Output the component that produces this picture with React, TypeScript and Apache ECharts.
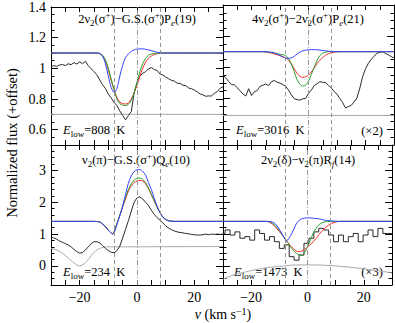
import React, { useEffect, useRef } from 'react';
import * as echarts from 'echarts';

const FONT = "'Liberation Serif', 'DejaVu Serif', serif";

// velocity grid (km/s) for observed spectra
const vGrid = [-30, -29, -28, -27, -26, -25, -24, -23, -22, -21, -20, -19, -18, -17, -16, -15, -14, -13, -12, -11, -10, -9, -8, -7, -6, -5, -4, -3, -2, -1, 0, 1, 2, 3, 4, 5, 6, 7, 8, 9, 10, 11, 12, 13, 14, 15, 16, 17, 18, 19, 20, 21, 22, 23, 24, 25, 26, 27, 28, 29, 30];

// observed spectra
const tlObs = [1.01, 1.018, 1.012, 1.022, 1.025, 1.018, 1.03, 1.024, 1.037, 1.028, 1.042, 1.03, 1.046, 1.018, 0.997, 0.978, 0.958, 0.924, 0.893, 0.868, 0.832, 0.807, 0.778, 0.757, 0.722, 0.692, 0.664, 0.692, 0.718, 0.84, 0.905, 0.948, 0.968, 0.978, 0.997, 1.005, 0.992, 0.987, 0.963, 0.957, 0.943, 0.932, 0.922, 0.917, 0.903, 0.902, 0.89, 0.887, 0.872, 0.867, 0.858, 0.847, 0.833, 0.827, 0.818, 0.82, 0.82, 0.837, 0.848, 0.87, 0.88];
const trObs = [0.95, 0.93, 0.908, 0.888, 0.887, 0.868, 0.848, 0.828, 0.815, 0.862, 0.818, 0.842, 0.85, 0.877, 0.884, 0.892, 0.882, 0.907, 0.915, 0.903, 0.898, 0.888, 0.877, 0.853, 0.822, 0.798, 0.792, 0.788, 0.797, 0.8, 0.832, 0.853, 0.882, 0.893, 0.907, 0.903, 0.902, 0.883, 0.867, 0.843, 0.827, 0.798, 0.772, 0.738, 0.747, 0.755, 0.777, 0.803, 0.865, 0.94, 0.99, 1.025, 1.05, 1.07, 1.09, 1.095, 1.1, 1.088, 1.08, 1.068, 1.06];
const blObs = [0.9, 0.88, 0.84, 0.78, 0.74, 0.7, 0.66, 0.6, 0.52, 0.45, 0.4, 0.42, 0.5, 0.6, 0.7, 0.76, 0.76, 0.72, 0.64, 0.55, 0.48, 0.43, 0.41, 0.48, 0.62, 0.88, 1.15, 1.42, 1.72, 2.0, 2.14, 2.17, 2.1, 2.0, 1.9, 1.75, 1.62, 1.52, 1.44, 1.35, 1.26, 1.19, 1.14, 1.1, 1.07, 1.05, 1.04, 1.02, 1.01, 0.99, 0.98, 0.97, 0.97, 0.98, 1.0, 0.98, 1.0, 0.99, 1.0, 0.99, 1.0];

// binned observed spectrum (bottom right): bin left edges and values
const brEdges = [-30, -29.25, -27.5, -25.75, -24, -22.25, -20.5, -18.75, -17, -15.25, -13.5, -11.75, -10, -8.25, -6.5, -4.75, -3, -1.25, 0.5, 2.25, 4, 5.75, 7.5, 9.25, 11, 12.75, 14.5, 16.25, 18, 19.75, 21.5, 23.25, 25, 26.75, 28.5, 30.25];
const brObs = [1.02, 1.02, 1.13, 0.97, 1.07, 0.87, 0.92, 0.81, 1.13, 1.02, 0.81, 0.92, 0.76, 0.55, 0.66, 0.29, 0.18, 0.34, 0.71, 0.87, 1.07, 1.18, 1.13, 0.97, 0.76, 0.97, 0.76, 0.92, 1.02, 0.76, 0.97, 1.13, 0.92, 1.18, 1.02, 1.02];

// model spectra [v, flux]
const tlBlue = [[-30, 1.1], [-14, 1.1], [-13, 1.097], [-12, 1.08], [-11, 1.03], [-10, 0.95], [-9, 0.875], [-8, 0.843], [-7, 0.87], [-6, 0.95], [-5, 1.02], [-4, 1.07], [-3, 1.095], [-2, 1.11], [-1, 1.12], [0, 1.125], [1, 1.127], [2, 1.127], [3, 1.124], [4, 1.12], [5, 1.115], [6, 1.11], [7, 1.105], [8, 1.102], [9, 1.1], [30, 1.1]];
const tlRed = [[-30, 1.1], [-14, 1.1], [-13, 1.095], [-12, 1.08], [-11, 1.05], [-10, 0.99], [-9, 0.92], [-8, 0.86], [-7, 0.81], [-6, 0.78], [-5, 0.77], [-4, 0.767], [-3, 0.775], [-2, 0.8], [-1, 0.84], [0, 0.89], [1, 0.95], [2, 1.0], [3, 1.04], [4, 1.065], [5, 1.08], [6, 1.09], [7, 1.095], [8, 1.098], [9, 1.1], [30, 1.1]];
const tlGreen = [[-30, 1.1], [-14, 1.1], [-13, 1.096], [-12, 1.085], [-11, 1.055], [-10, 1.0], [-9, 0.93], [-8, 0.86], [-7, 0.8], [-6, 0.77], [-5, 0.76], [-4, 0.757], [-3, 0.765], [-2, 0.79], [-1, 0.84], [0, 0.91], [1, 0.98], [2, 1.03], [3, 1.065], [4, 1.085], [5, 1.093], [6, 1.097], [7, 1.099], [8, 1.1], [30, 1.1]];
const tlGray = [[-30, 0.7], [30, 0.7]];

const trBlue = [[-30, 1.1], [-16, 1.1], [-14, 1.098], [-12, 1.093], [-11, 1.085], [-10, 1.075], [-9, 1.065], [-8, 1.06], [-7, 1.057], [-6, 1.06], [-5, 1.07], [-4, 1.085], [-3, 1.097], [-2, 1.105], [-1, 1.11], [0, 1.112], [1, 1.113], [2, 1.113], [3, 1.112], [4, 1.11], [5, 1.107], [6, 1.105], [7, 1.103], [8, 1.101], [9, 1.1], [30, 1.1]];
const trRed = [[-30, 1.1], [-16, 1.1], [-15, 1.098], [-14, 1.095], [-13, 1.09], [-12, 1.085], [-11, 1.08], [-10, 1.075], [-9, 1.068], [-8, 1.06], [-7, 1.045], [-6, 1.02], [-5, 0.99], [-4, 0.96], [-3, 0.942], [-2, 0.935], [-1, 0.938], [0, 0.95], [1, 0.97], [2, 0.995], [3, 1.025], [4, 1.045], [5, 1.063], [6, 1.077], [7, 1.087], [8, 1.093], [9, 1.097], [10, 1.099], [11, 1.1], [30, 1.1]];
const trGreen = [[-30, 1.1], [-16, 1.1], [-15, 1.099], [-14, 1.097], [-13, 1.094], [-12, 1.09], [-11, 1.087], [-10, 1.083], [-9, 1.08], [-8, 1.075], [-7, 1.055], [-6, 1.02], [-5, 0.97], [-4, 0.92], [-3, 0.89], [-2, 0.879], [-1, 0.885], [0, 0.91], [1, 0.955], [2, 1.0], [3, 1.045], [4, 1.075], [5, 1.09], [6, 1.097], [7, 1.1], [30, 1.1]];
const trGray = [[-30, 0.69], [30, 0.69]];

const blBlue = [[-30, 1.4], [-15, 1.4], [-14, 1.395], [-13, 1.38], [-12, 1.32], [-11, 1.24], [-10, 1.13], [-9, 1.03], [-8.5, 1.0], [-8, 1.04], [-7, 1.3], [-6, 1.58], [-5, 1.88], [-4, 2.25], [-3, 2.6], [-2, 2.83], [-1, 2.96], [0, 3.02], [1, 3.03], [2, 2.97], [3, 2.85], [4, 2.62], [5, 2.4], [6, 2.13], [7, 1.88], [8, 1.68], [9, 1.53], [10, 1.46], [11, 1.42], [12, 1.405], [13, 1.4], [30, 1.4]];
const blGreen = [[-30, 1.4], [-15, 1.4], [-14, 1.395], [-13, 1.38], [-12, 1.32], [-11, 1.22], [-10, 1.12], [-9, 1.03], [-8.5, 1.01], [-8, 1.07], [-7, 1.33], [-6, 1.6], [-5, 1.87], [-4, 2.15], [-3, 2.4], [-2, 2.58], [-1, 2.7], [0, 2.75], [1, 2.76], [2, 2.72], [3, 2.62], [4, 2.45], [5, 2.25], [6, 2.05], [7, 1.85], [8, 1.67], [9, 1.53], [10, 1.46], [11, 1.42], [12, 1.405], [13, 1.4], [30, 1.4]];
const blRed = [[-30, 1.4], [-15, 1.4], [-14, 1.395], [-13, 1.38], [-12, 1.32], [-11, 1.22], [-10, 1.12], [-9, 1.03], [-8.5, 1.01], [-8, 1.07], [-7, 1.32], [-6, 1.58], [-5, 1.85], [-4, 2.1], [-3, 2.35], [-2, 2.52], [-1, 2.62], [0, 2.67], [1, 2.69], [2, 2.67], [3, 2.58], [4, 2.43], [5, 2.24], [6, 2.04], [7, 1.85], [8, 1.68], [9, 1.54], [10, 1.46], [11, 1.42], [12, 1.405], [13, 1.4], [30, 1.4]];
const blGray = [[-30, 0.55], [-28, 0.5], [-26, 0.4], [-25, 0.33], [-24, 0.25], [-23, 0.17], [-22, 0.09], [-21, 0.03], [-20, 0.0], [-19, 0.03], [-18, 0.1], [-17, 0.2], [-16, 0.32], [-15, 0.42], [-14, 0.5], [-13, 0.55], [-12, 0.58], [-11, 0.6], [-10, 0.6], [30, 0.61]];

const brBlue = [[-30, 1.4], [-14, 1.4], [-13, 1.39], [-12, 1.36], [-11, 1.28], [-10, 1.15], [-9, 1.0], [-8, 0.84], [-7.5, 0.79], [-7, 0.82], [-6, 0.95], [-5, 1.13], [-4, 1.32], [-3, 1.43], [-2, 1.48], [-1, 1.5], [0, 1.51], [1, 1.51], [2, 1.5], [3, 1.49], [4, 1.48], [5, 1.46], [6, 1.44], [7, 1.43], [8, 1.42], [9, 1.41], [10, 1.4], [30, 1.4]];
const brRed = [[-30, 1.4], [-15, 1.4], [-14, 1.39], [-13, 1.35], [-12, 1.28], [-11, 1.18], [-10, 1.08], [-9, 0.97], [-8, 0.86], [-7, 0.74], [-6, 0.63], [-5, 0.54], [-4, 0.47], [-3, 0.45], [-2, 0.47], [-1, 0.52], [0, 0.59], [1, 0.67], [2, 0.75], [3, 0.86], [4, 0.98], [5, 1.08], [6, 1.17], [7, 1.25], [8, 1.31], [9, 1.35], [10, 1.38], [11, 1.395], [12, 1.4], [30, 1.4]];
const brGreen = [[-30, 1.4], [-15, 1.4], [-14, 1.395], [-13, 1.37], [-12, 1.31], [-11, 1.22], [-10, 1.11], [-9, 0.99], [-8, 0.86], [-7, 0.73], [-6, 0.6], [-5, 0.49], [-4, 0.4], [-3, 0.35], [-2, 0.34], [-1, 0.42], [0, 0.6], [1, 0.82], [2, 1.02], [3, 1.18], [4, 1.29], [5, 1.35], [6, 1.38], [7, 1.395], [8, 1.4], [30, 1.4]];
const brGray = [[-30, -0.42], [-28, -0.34], [-26, -0.28], [-24, -0.23], [-22, -0.19], [-20, -0.15], [-18, -0.11], [-16, -0.08], [-14, -0.05], [-12, -0.03], [-10, -0.01], [-8, 0.0], [-6, 0.02], [-4, 0.03], [-2, 0.03], [0, 0.03], [2, 0.03], [4, 0.03], [6, 0.02], [8, 0.01], [10, 0.0], [12, -0.02], [14, -0.03], [16, -0.05], [18, -0.07], [20, -0.09], [22, -0.12], [24, -0.14], [26, -0.17], [28, -0.19], [30, -0.22]];

// reference velocities (vertical lines)
const refLines = [-8, 0, 8];

// tick label values
const xLabelVals = [-20, 0, 20];
const topMajor = [0.6, 0.8, 1, 1.2, 1.4];
const botMajor = [0, 1, 2, 3];

const grids = [
  { left: 51, top: 5, width: 172, height: 140 },
  { left: 223, top: 5, width: 171, height: 140 },
  { left: 51, top: 145, width: 172, height: 140 },
  { left: 223, top: 145, width: 171, height: 140 },
];

const fmtNum = (v: number) => (v < 0 ? '\u2212' + Math.abs(v) : String(v));

function makeX(g: number, showLabels: boolean) {
  const base: any = {
    type: 'value', gridIndex: g, min: -30, max: 30, interval: 5,
    splitLine: { show: false },
    axisLine: { onZero: false, lineStyle: { color: '#000', width: 1 } },
    axisTick: { inside: true, length: 5, lineStyle: { color: '#000', width: 1 } },
  };
  return [
    {
      ...base, position: 'bottom',
      axisLabel: {
        show: showLabels, color: '#000', fontFamily: FONT, fontSize: 14, margin: 5,
        showMinLabel: true, showMaxLabel: true, hideOverlap: false,
        formatter: (v: number) => (xLabelVals.some((l) => Math.abs(l - v) < 1e-6) ? fmtNum(v) : ''),
      },
    },
    { ...base, position: 'top', axisLabel: { show: false } },
  ];
}

function makeY(g: number, top: boolean, showLabels: boolean) {
  const min = top ? 0.5 : -0.6;
  const max = top ? 1.4 : 3.8;
  const interval = top ? 0.05 : 0.2;
  const majors = top ? topMajor : botMajor;
  const base: any = {
    type: 'value', gridIndex: g, min, max, interval,
    splitLine: { show: false },
    axisLine: { onZero: false, lineStyle: { color: '#000', width: 1 } },
  };
  const minor = (pos: string, labels: boolean) => ({
    ...base, position: pos,
    axisTick: { inside: true, length: 3.5, lineStyle: { color: '#000', width: 1 } },
    axisLabel: {
      show: labels, color: '#000', fontFamily: FONT, fontSize: 14, margin: 5,
      showMinLabel: true, showMaxLabel: true, hideOverlap: false,
      formatter: (v: number) => (majors.some((l) => Math.abs(l - v) < 1e-6) ? fmtNum(Number(v.toFixed(2))) : ''),
    },
  });
  const major = (pos: string) => ({
    ...base, position: pos,
    axisLine: { show: false, onZero: false },
    axisTick: { show: true, inside: true, length: 7, customValues: majors, lineStyle: { color: '#000', width: 1 } },
    axisLabel: { show: false },
  });
  return [minor('left', showLabels), major('left'), minor('right', false), major('right')];
}

function lineSeries(g: number, data: any[], color: string, extra: any = {}) {
  return {
    type: 'line', xAxisIndex: 2 * g, yAxisIndex: 4 * g, data,
    symbol: 'none', silent: true, clip: true,
    lineStyle: { color, width: 1 }, ...extra,
  };
}

function refSeries(g: number) {
  return {
    type: 'line', xAxisIndex: 2 * g, yAxisIndex: 4 * g, data: [], symbol: 'none', silent: true,
    markLine: {
      silent: true, symbol: 'none', label: { show: false },
      data: refLines.map((v) => ({
        xAxis: v,
        lineStyle: { color: '#8a8a8a', width: 0.9, type: v === 0 ? [5, 2, 1, 2] : [4, 3] },
      })),
    },
  };
}

const obsPairs = (arr: number[]) => vGrid.map((v, i) => [v, arr[i]]);
const BLACK = '#2a2a2a';
const GRAY = '#a8a8a8';
const RED = '#ff2a2a';
const GREEN = '#2ca02c';
const BLUE = '#3344ff';

const richBase = {
  n: { fontFamily: FONT, fontSize: 12.5, lineHeight: 17, fill: '#000' },
  i: { fontFamily: FONT, fontSize: 12.5, lineHeight: 17, fontStyle: 'italic', fill: '#000' },
  s: { fontFamily: FONT, fontSize: 9, lineHeight: 8, verticalAlign: 'bottom', fill: '#000' },
  si: { fontFamily: FONT, fontSize: 9, lineHeight: 8, verticalAlign: 'bottom', fontStyle: 'italic', fill: '#000' },
  p: { fontFamily: FONT, fontSize: 9, lineHeight: 8, verticalAlign: 'top', fill: '#000' },
};

function richText(x: number, y: number, text: string, align = 'center', size = 12.5) {
  return {
    type: 'text', x, y, silent: true,
    style: { text, rich: richBase, fontFamily: FONT, fontSize: size, fill: '#000', align, verticalAlign: 'middle' },
  };
}

export default function App() {
  const ref = useRef<HTMLDivElement>(null);
  useEffect(() => {
    if (!ref.current) return;
    const chart = echarts.init(ref.current, undefined, { renderer: 'svg' });
    const option: any = {
      animation: false,
      backgroundColor: '#fff',
      grid: grids,
      xAxis: [...makeX(0, false), ...makeX(1, false), ...makeX(2, true), ...makeX(3, true)],
      yAxis: [...makeY(0, true, true), ...makeY(1, true, false), ...makeY(2, false, true), ...makeY(3, false, false)],
      series: [
        refSeries(0), refSeries(1), refSeries(2), refSeries(3),
        lineSeries(0, tlGray, GRAY), lineSeries(0, obsPairs(tlObs), BLACK),
        lineSeries(0, tlRed, RED, { smooth: 0.3 }), lineSeries(0, tlGreen, GREEN, { smooth: 0.3 }), lineSeries(0, tlBlue, BLUE, { smooth: 0.3 }),
        lineSeries(1, trGray, GRAY), lineSeries(1, obsPairs(trObs), BLACK),
        lineSeries(1, trRed, RED, { smooth: 0.3 }), lineSeries(1, trGreen, GREEN, { smooth: 0.3 }), lineSeries(1, trBlue, BLUE, { smooth: 0.3 }),
        lineSeries(2, blGray, GRAY, { smooth: 0.3 }), lineSeries(2, obsPairs(blObs), BLACK),
        lineSeries(2, blRed, RED, { smooth: 0.3 }), lineSeries(2, blGreen, GREEN, { smooth: 0.3 }), lineSeries(2, blBlue, BLUE, { smooth: 0.3 }),
        lineSeries(3, brGray, GRAY, { smooth: 0.3 }), lineSeries(3, brEdges.map((v, i) => [v, brObs[i]]), BLACK, { step: 'start' }),
        lineSeries(3, brRed, RED, { smooth: 0.3 }), lineSeries(3, brGreen, GREEN, { smooth: 0.3 }), lineSeries(3, brBlue, BLUE, { smooth: 0.3 }),
      ],
      graphic: [
        richText(137, 19, '{n|2ν}{s|2}{n|(σ}{p|+}{n|)−G.S.(σ}{p|+}{n|)P}{si|e}{n|(19)}'),
        richText(308, 19, '{n|4ν}{s|2}{n|(σ}{p|+}{n|)−2ν}{s|2}{n|(σ}{p|+}{n|)P}{si|e}{n|(21)}'),
        richText(136, 160, '{n|ν}{s|2}{n|(π)−G.S.(σ}{p|+}{n|)Q}{si|e}{n|(10)}'),
        richText(308, 160, '{n|2ν}{s|2}{n|(δ)−ν}{s|2}{n|(π)R}{si|f}{n|(14)}'),
        richText(63, 130, '{i|E}{s|low}{n|=808  K}', 'left'),
        richText(236, 130, '{i|E}{s|low}{n|=3016  K}', 'left'),
        richText(63, 272, '{i|E}{s|low}{n|=234  K}', 'left'),
        richText(234, 272, '{i|E}{s|low}{n|=1473  K}', 'left'),
        richText(372, 131, '{n|(×2)}'),
        richText(372, 272, '{n|(×3)}'),
        {
          type: 'text', x: 223, y: 314, silent: true,
          style: {
            text: '{i|v}{n| (km s}{p|−1}{n|)}', fontFamily: FONT, fontSize: 14, fill: '#000', align: 'center', verticalAlign: 'middle',
            rich: {
              n: { fontFamily: FONT, fontSize: 14, lineHeight: 16, fill: '#000' },
              i: { fontFamily: FONT, fontSize: 14, lineHeight: 16, fontStyle: 'italic', fill: '#000' },
              p: { fontFamily: FONT, fontSize: 10, lineHeight: 8, verticalAlign: 'top', fill: '#000' },
            },
          },
        },
        {
          type: 'text', x: 12, y: 143, rotation: Math.PI / 2, silent: true,
          style: { text: 'Normalized flux (+offset)', fontFamily: FONT, fontSize: 14.5, fill: '#000', align: 'center', verticalAlign: 'middle' },
        },
      ],
    };
    chart.setOption(option);
    return () => chart.dispose();
  }, []);
  return <div ref={ref} style={{ position: 'fixed', left: 0, top: 0, width: 395, height: 323 }} />;
}
